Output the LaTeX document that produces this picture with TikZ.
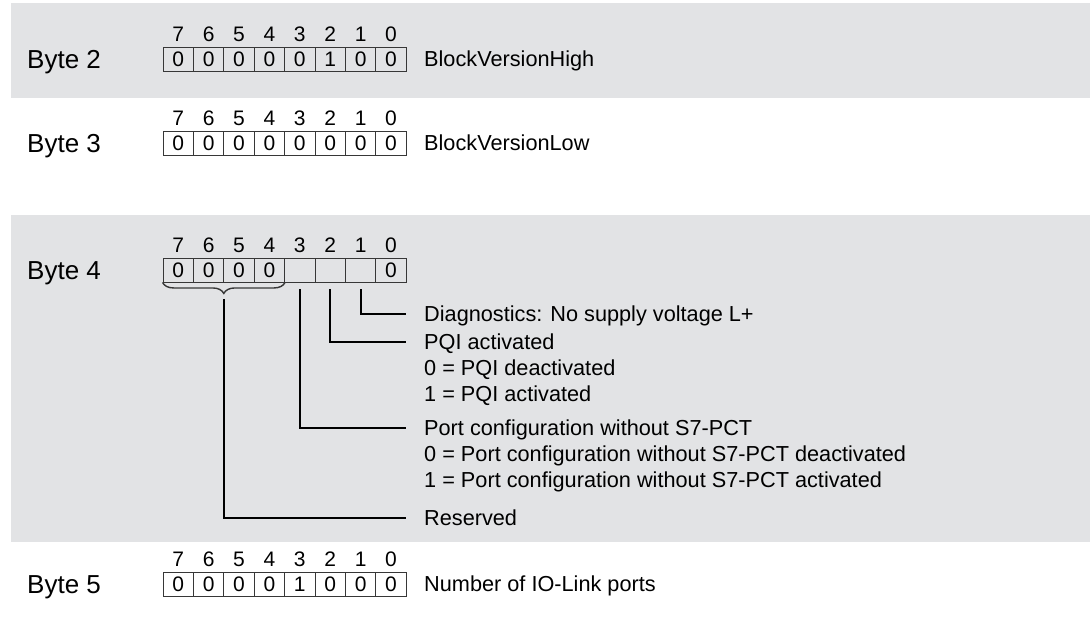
\documentclass[tikz,border=0pt]{standalone}
\usepackage{fontspec}
\setmainfont{Liberation Sans}
\usetikzlibrary{calc,decorations.pathreplacing}
\definecolor{bandgray}{RGB}{226,227,229}
\definecolor{cellline}{RGB}{55,55,55}
\tikzset{
  cell/.style={draw=cellline, line width=0.9pt, minimum width=30.4pt, minimum height=24pt,
    inner sep=0pt, text height=15pt, text depth=0pt, font=\fontsize{21}{24}\selectfont},
  bitnum/.style={inner sep=0pt, text height=15pt, text depth=0pt, font=\fontsize{21}{24}\selectfont},
  bytelabel/.style={anchor=west, inner sep=0pt, text height=18.5pt, text depth=0pt, font=\fontsize{26}{29}\selectfont},
  desc/.style={anchor=west, inner sep=0pt, text height=15.5pt, text depth=0pt, font=\fontsize{21.7}{25}\selectfont},
  conn/.style={line width=1.9pt, black},
  bracestyle/.style={line width=1.4pt, cellline, decorate, decoration={brace, mirror, amplitude=11pt}}
}
\newcommand\bytecells[3]{%
  \foreach \v [count=\i from 0] in {#3} {
    \pgfmathtruncatemacro\bit{7-\i}
    \node[cell] (#1c\bit) at (163+\i*30.4+15.2, #2+12) {\v};
    \node[bitnum] (#1n\bit) at (163+\i*30.4+15.2, #2-13) {\bit};
  }%
}
\begin{document}
\begin{tikzpicture}[x=1pt, y=-1pt]
\useasboundingbox (0,0) rectangle (1090,629);
\fill[bandgray] (11,3) rectangle (1090,98);
\fill[bandgray] (11,215) rectangle (1090,542);

% Byte 2
\node[bytelabel] (l2) at (27,59) {Byte 2};
\bytecells{b2}{47}{0,0,0,0,0,1,0,0}
\node[desc] (d2) at (424,59) {BlockVersionHigh};

% Byte 3
\node[bytelabel] (l3) at (27,143) {Byte 3};
\bytecells{b3}{131}{0,0,0,0,0,0,0,0}
\node[desc] (d3) at (424,143) {BlockVersionLow};

% Byte 4
\node[bytelabel] (l4) at (27,270) {Byte 4};
\bytecells{b4}{258}{0,0,0,0,{},{},{},0}
\node[desc] (diag) at (424,314) {Diagnostics: No supply voltage L+};
\node[desc] (pqi) at (424,342) {PQI activated};
\node[desc] (pqi0) at (424,368) {0 = PQI deactivated};
\node[desc] (pqi1) at (424,394) {1 = PQI activated};
\node[desc] (port) at (424,428) {Port configuration without S7-PCT};
\node[desc] (port0) at (424,454) {0 = Port configuration without S7-PCT deactivated};
\node[desc] (port1) at (424,480) {1 = Port configuration without S7-PCT activated};
\node[desc] (rsv) at (424,518) {Reserved};

\draw[bracestyle] (b4c7.south west) -- (b4c4.south east);
\coordinate (brtip) at ($($(b4c7.south west)!0.5!(b4c4.south east)$)+(0,17)$);

\draw[conn] ([yshift=-7pt]b4c1.south) |- ([xshift=-18pt]diag.west);
\draw[conn] ([yshift=-7pt]b4c2.south) |- ([xshift=-18pt]pqi.west);
\draw[conn] ([yshift=-7pt]b4c3.south) |- ([xshift=-18pt]port.west);
\draw[conn] (brtip) |- ([xshift=-18pt]rsv.west);

% Byte 5
\node[bytelabel] (l5) at (27,584) {Byte 5};
\bytecells{b5}{572}{0,0,0,0,1,0,0,0}
\node[desc] (d5) at (424,584) {Number of IO-Link ports};
\end{tikzpicture}
\end{document}
